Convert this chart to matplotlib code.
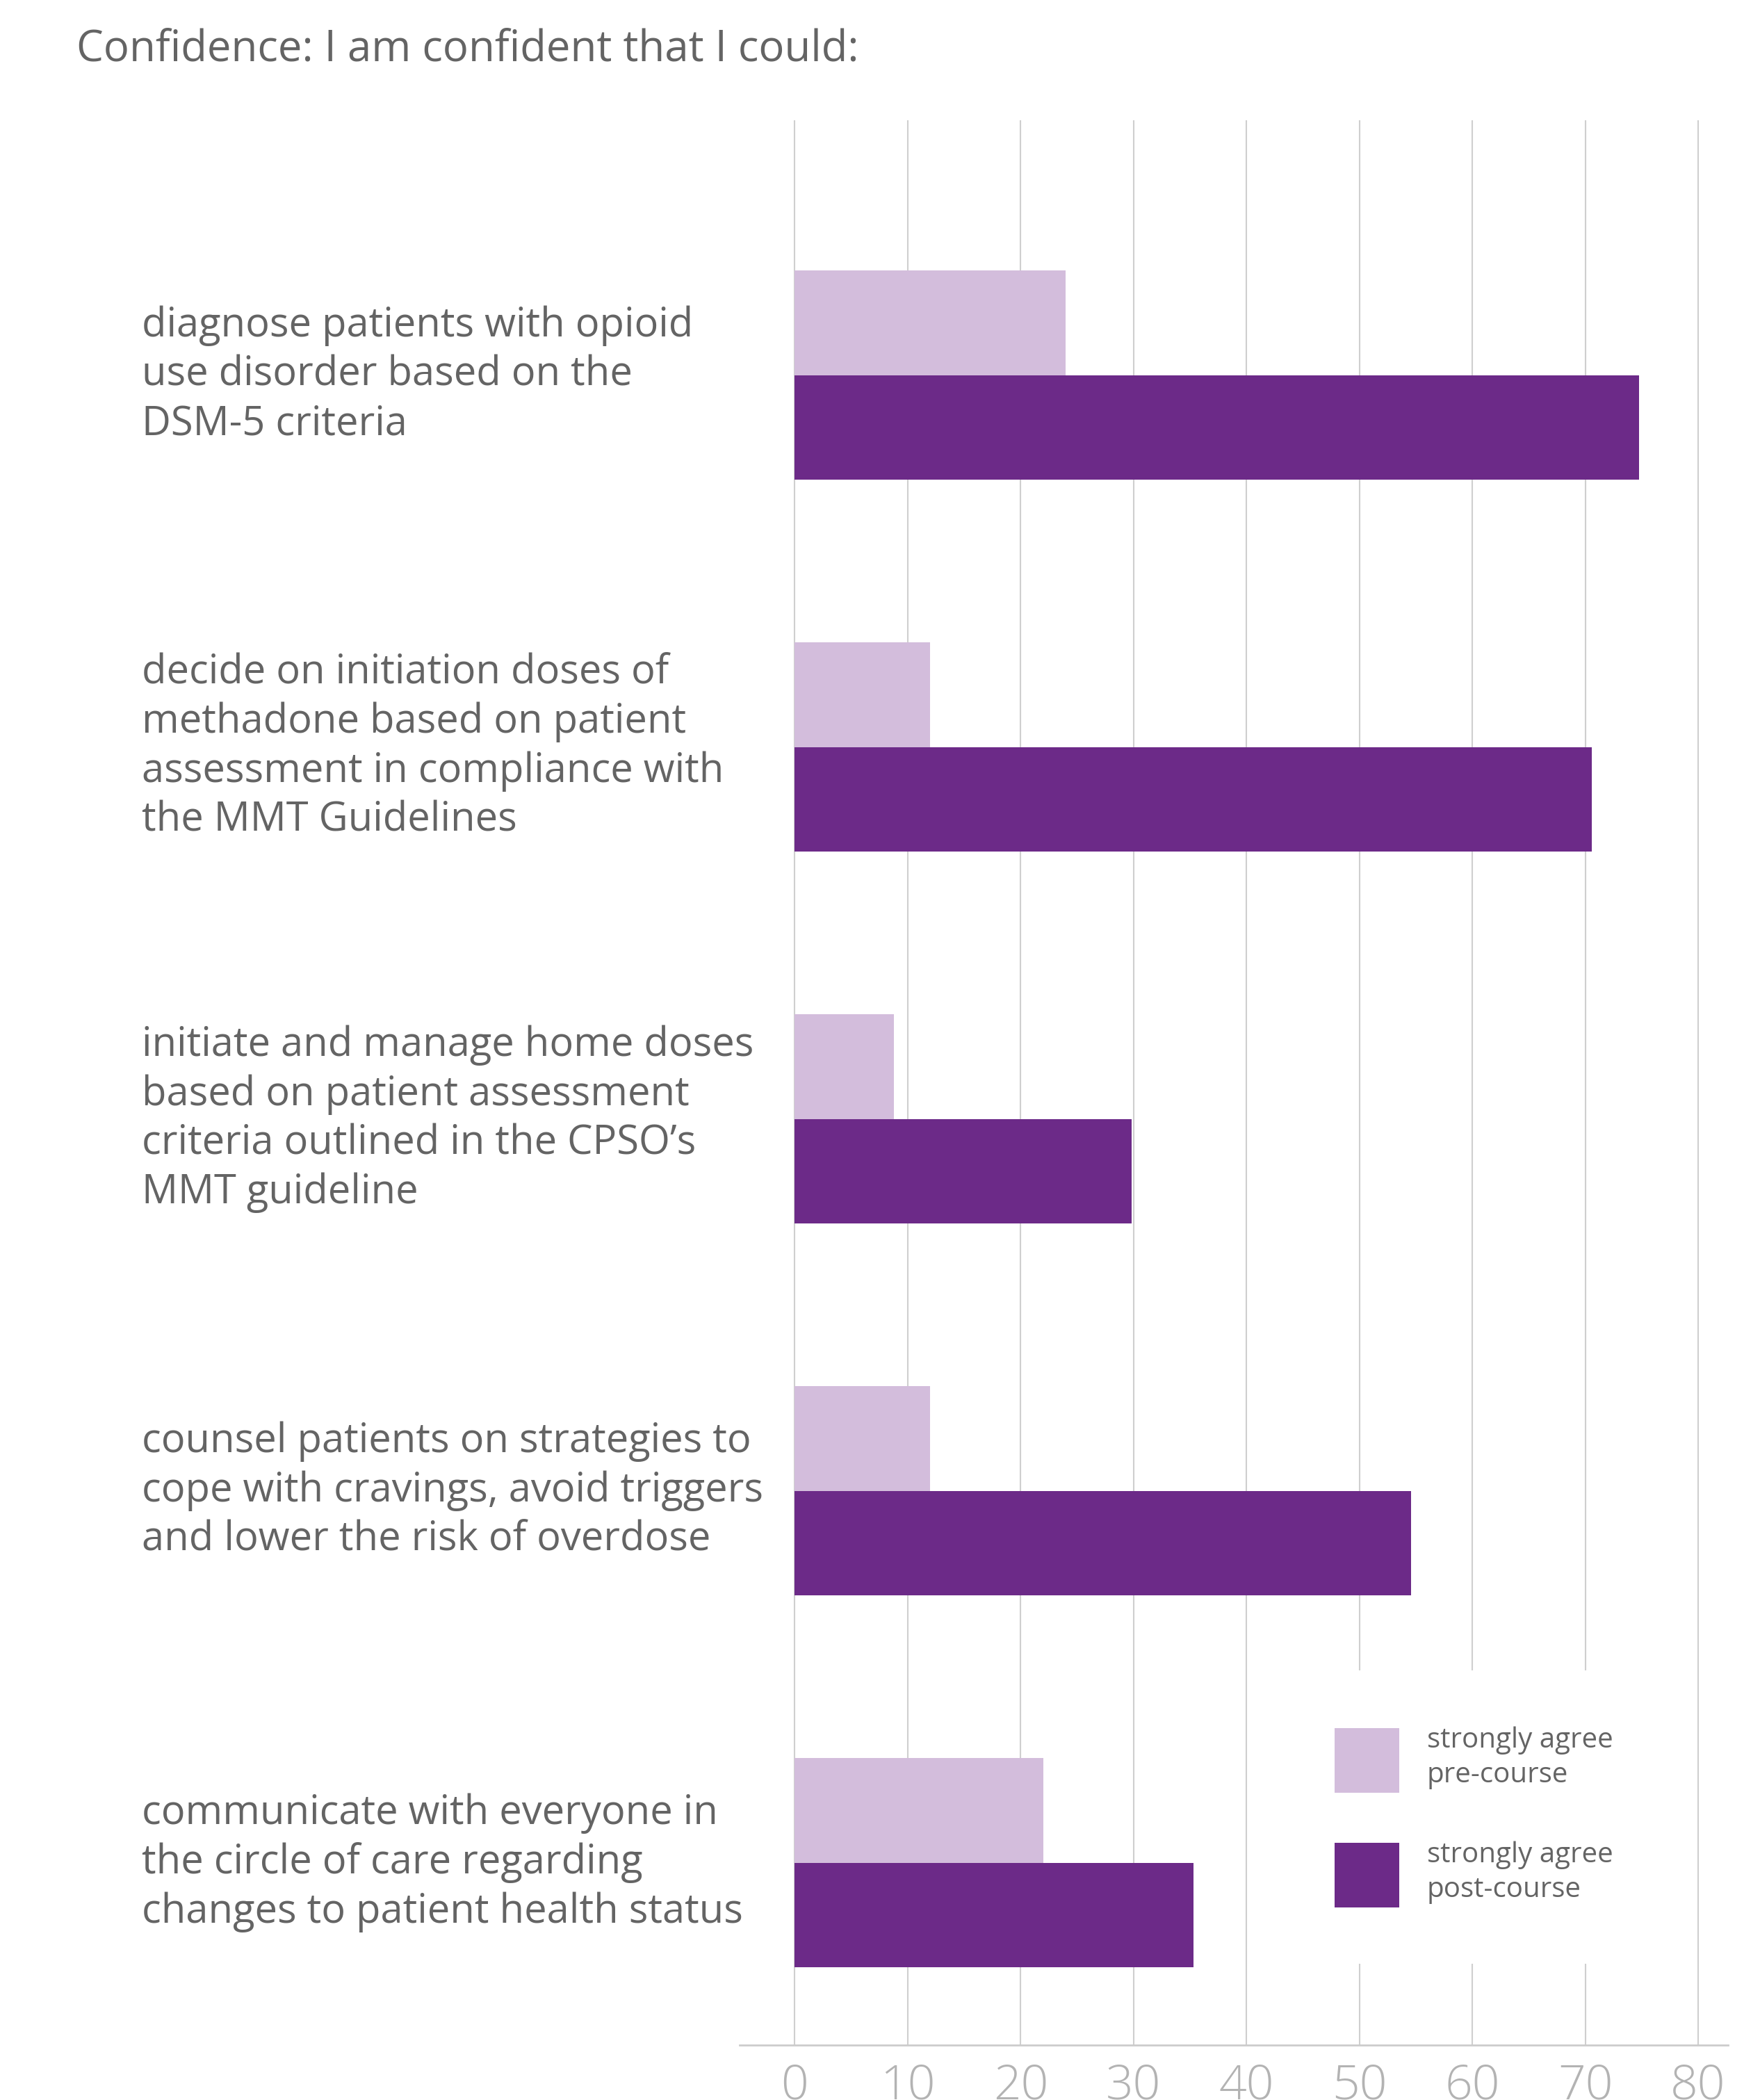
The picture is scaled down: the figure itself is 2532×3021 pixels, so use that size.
import matplotlib
matplotlib.use("Agg")
import matplotlib.pyplot as plt
import matplotlib.transforms as mtransforms
import numpy as np

# ---- data ----
categories = [
    "diagnose patients with opioid\nuse disorder based on the\nDSM-5 criteria",
    "decide on initiation doses of\nmethadone based on patient\nassessment in compliance with\nthe MMT Guidelines",
    "initiate and manage home doses\nbased on patient assessment\ncriteria outlined in the CPSO\u2019s\nMMT guideline",
    "counsel patients on strategies to\ncope with cravings, avoid triggers\nand lower the risk of overdose",
    "communicate with everyone in\nthe circle of care regarding\nchanges to patient health status",
]
pre_course = [24, 12, 8.8, 12, 22]
post_course = [74.8, 70.6, 29.8, 54.6, 35.3]
series_labels = ["strongly agree\npre-course", "strongly agree\npost-course"]
x_ticks = [0, 10, 20, 30, 40, 50, 60, 70, 80]
title = "Confidence: I am confident that I could:"

# ---- style ----
plt.rcParams['font.family'] = ['Open Sans', 'DejaVu Sans']
LIGHT = "#D3BDDC"
DARK = "#6C2A88"
TEXT = "#646464"
TICK = "#B3B3B3"
GRID = "#CFCFCF"

W, H = 2532, 3021
fig = plt.figure(figsize=(W / 100, H / 100), dpi=100)
fig.patch.set_facecolor("white")

left, right = 1064 / W, 2486 / W
top, bottom = 1 - 173 / H, 1 - 2942 / H
ax = fig.add_axes([left, bottom, right - left, top - bottom])

y = np.arange(len(categories))
bh = 0.281
ax.barh(y - bh / 2, pre_course, height=bh, color=LIGHT, label=series_labels[0], zorder=3)
ax.barh(y + bh / 2, post_course, height=bh, color=DARK, label=series_labels[1], zorder=3)

ax.set_xlim(-4.89, 82.65)
ax.set_ylim(4.49, -0.685)

ax.set_xticks(x_ticks)
ax.set_xticklabels([str(t) for t in x_ticks])
ax.tick_params(axis='x', length=0, pad=18, labelsize=50, labelcolor=TICK)
for lbl in ax.get_xticklabels():
    lbl.set_fontweight('light')
ax.set_yticks([])
ax.grid(axis='x', color=GRID, linewidth=1.5, zorder=0)
ax.set_axisbelow(True)

for s in ['top', 'right', 'left']:
    ax.spines[s].set_visible(False)
ax.spines['bottom'].set_color("#CCCCCC")
ax.spines['bottom'].set_linewidth(2)

# category labels
trans = mtransforms.blended_transform_factory(fig.transFigure, ax.transData)
for i, cat in enumerate(categories):
    ax.text(204 / W, i, cat, transform=trans, ha='left', va='center',
            fontsize=41.7, color=TEXT, linespacing=1.275)

# title
fig.text(110 / W, 1 - 71 / H, title, ha='left', va='center', fontsize=44.5, color=TEXT)

# legend
fs = 29
leg = ax.legend(loc='upper left', bbox_to_anchor=(1839 / W, 1 - 2403 / H),
                bbox_transform=fig.transFigure, fontsize=fs, frameon=True,
                facecolor='white', edgecolor='none', framealpha=1,
                handlelength=2.31, handleheight=3.17, handletextpad=1.0,
                labelspacing=1.74, borderpad=2.0, borderaxespad=0, fancybox=False)
for t in leg.get_texts():
    t.set_color(TEXT)
    t.set_linespacing(1.31)
leg.set_zorder(5)

fig.savefig("out.png", dpi=100, facecolor="white")
